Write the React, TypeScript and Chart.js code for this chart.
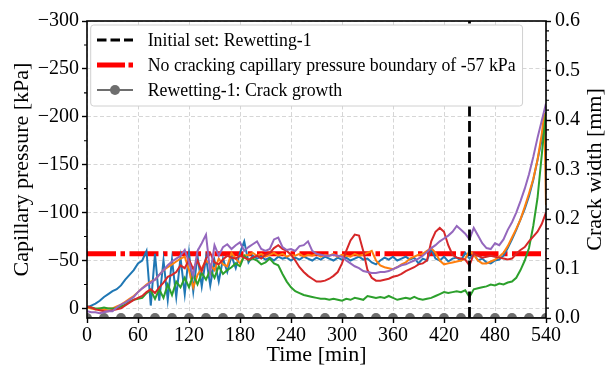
import React, { useEffect, useRef } from 'react';
import { Chart, registerables } from 'chart.js';

Chart.register(...registerables);

const SERIF = "'Liberation Serif', 'Times New Roman', Times, serif";

// ---- data ----
const times = [
  0, 5, 10, 15, 20, 25, 30, 35, 40, 45, 50, 55,
  60, 65, 70, 75, 80, 85, 90, 95, 100, 105, 110, 115,
  120, 125, 130, 135, 140, 145, 150, 155, 160, 165, 170, 175,
  180, 185, 190, 195, 200, 205, 210, 215, 220, 225, 230, 235,
  240, 245, 250, 255, 260, 265, 270, 275, 280, 285, 290, 295,
  300, 305, 310, 315, 320, 325, 330, 335, 340, 345, 350, 355,
  360, 365, 370, 375, 380, 385, 390, 395, 400, 405, 410, 415,
  420, 425, 430, 435, 440, 445, 450, 455, 460, 465, 470, 475,
  480, 485, 490, 495, 500, 505, 510, 515, 520, 525, 530, 535,
  540,
];

const blue = [
  -1, -3, -5, -8, -12, -15, -18, -20, -24, -30, -35, -40,
  -47, -50, -60, -3, -57, -8, -50, -9, -51, -12, -53, -15,
  -58, -18, -55, -23, -53, -24, -50, -28, -52, -38, -55, -42,
  -58, -70, -48, -55, -52, -54, -51, -53, -50, -54, -52, -53,
  -50, -53, -51, -54, -52, -50, -53, -51, -54, -52, -50, -53,
  -51, -53, -50, -52, -54, -51, -52, -48, -46, -50, -53, -51,
  -54, -50, -52, -54, -51, -53, -47, -52, -50, -62, -52, -50,
  -54, -49, -52, -53, -50, -58, -52, -57, -50, -52, -48, -47,
  -50, -51, -55, -63, -72, -82, -93, -104, -117, -134, -155, -176,
  -197,
];

const orange = [
  -1, 0, 1, 0, 1, 0, 0, -2, -4, -7, -10, -13,
  -17, -21, -25, -28, -30, -35, -40, -43, -46, -49, -52, -54,
  -40, -22, -35, -42, -50, -46, -40, -52, -46, -44, -58, -52,
  -47, -55, -56, -58, -55, -57, -54, -56, -58, -55, -57, -54,
  -56, -55, -57, -54, -56, -55, -57, -54, -56, -55, -57, -54,
  -56, -55, -54, -57, -55, -56, -58, -60, -50, -45, -43, -42,
  -41, -43, -46, -48, -52, -54, -56, -57, -60, -63, -58, -50,
  -46, -47, -48, -49, -50, -52, -60, -56, -50, -47, -47, -49,
  -51, -54, -58, -65, -74, -83, -93, -106, -120, -135, -155, -182,
  -108,
];
const orangePeakTime = 538;
const orangePeakValue = -204;

const green = [
  -2, -1, 0, 0, -1, 0, 0, 0, -2, -4, -7, -9,
  -10, -11, -16, -19, -10, -20, -11, -25, -14, -28, -22, -32,
  -22, -35, -25, -37, -30, -40, -32, -44, -36, -40, -43, -47,
  -44, -55, -50, -52, -50, -46, -48, -52, -47, -45, -36, -28,
  -22, -18, -16, -14, -13, -12, -11, -10, -10, -9, -10, -9,
  -8, -10, -9, -11, -10, -9, -13, -12, -11, -12, -11, -13,
  -11, -9, -10, -11, -10, -12, -10, -9, -10, -11, -13, -15,
  -17, -16, -17, -18, -17, -19, -12, -20, -21, -22, -23, -25,
  -24, -26, -25, -27, -28, -32, -40, -50, -63, -86, -115, -160,
  -205,
];

const red = [
  -2, -1, 1, 2, 3, 3, 2, 1, 0, -3, -6, -9,
  -11, -13, -17, -20, -16, -22, -27, -33, -35, -38, -45, -42,
  -51, -41, -50, -39, -52, -58, -48, -46, -51, -55, -53, -52,
  -55, -53, -51, -53, -55, -52, -56, -58, -63, -66, -62, -60,
  -56, -50, -43, -38, -34, -31, -28, -28, -29, -31, -34, -38,
  -47, -60, -71, -77, -76, -60, -40, -32, -29, -29, -30, -31,
  -33, -34, -36, -39, -41, -43, -46, -47, -50, -70, -80, -84,
  -80, -66, -56, -53, -52, -51, -45, -57, -55, -53, -54, -55,
  -54, -53, -52, -51, -52, -57, -61, -64, -70, -75, -80, -88,
  -100,
];

const purple = [
  3, 4, 4, 5, 4, 3, 3, -1, -4, -6, -9, -12,
  -17, -21, -24, -27, -30, -35, -40, -45, -49, -52, -55, -61,
  -48, -34, -60, -68, -77, -37, -66, -55, -64, -67, -62, -66,
  -69, -60, -64, -67, -70, -62, -60, -62, -72, -74, -64, -61,
  -62, -60, -65, -66, -70, -60, -57, -56, -55, -55, -56, -55,
  -54, -50, -47, -44, -42, -39, -38, -37, -37, -38, -38, -39,
  -41, -43, -45, -46, -48, -50, -52, -55, -59, -63, -66, -70,
  -73, -76, -80, -86, -82, -78, -72, -84, -76, -68, -63, -62,
  -68, -66, -72, -82, -90, -100, -112, -125, -140, -158, -178, -196,
  -214,
];

const crackTimes = [
  0, 20, 40, 60, 80, 100, 120, 140, 160, 180, 200, 220, 240, 260,
  280, 300, 320, 340, 360, 380, 400, 420, 440, 460, 480, 500, 520, 540,
];
const crackWidths = [
  0, 0, 0, 0, 0, 0, 0, 0, 0, 0, 0, 0, 0, 0,
  0, 0, 0, 0, 0, 0, 0, 0, 0, 0, 0, 0, 0, 0,
];

const initialSetTime = 450;
const boundaryPressure = -57;

const X_MIN = 0;
const X_MAX = 540;
const X_STEP = 60;
const P_MIN = -300;
const P_MAX = 10;
const P_STEP = 50;
const W_MIN = 0;
const W_MAX = 0.6;
const W_STEP = 0.1;
const pressureMinorTicks = [-275, -225, -175, -125, -75, -25];
const widthMinorTicks = [
  0.02, 0.04, 0.06, 0.08, 0.12, 0.14, 0.16, 0.18, 0.22, 0.24, 0.26, 0.28,
  0.32, 0.34, 0.36, 0.38, 0.42, 0.44, 0.46, 0.48, 0.52, 0.54, 0.56, 0.58,
];

const LABEL_INITIAL = 'Initial set: Rewetting-1';
const LABEL_BOUNDARY = 'No cracking capillary pressure boundary of -57 kPa';
const LABEL_CRACK = 'Rewetting-1: Crack growth';

const C_BLUE = '#1f77b4';
const C_ORANGE = '#ff7f0e';
const C_GREEN = '#2ca02c';
const C_RED = '#d62728';
const C_PURPLE = '#9467bd';
const C_BOUNDARY = '#ff0000';
const C_GRAY = '#6e6e6e';

const DASH_INITIAL = [11, 4.5];
const DASH_BOUNDARY = [29, 4.5, 4.5, 4.5];

const toXY = (xs: number[], ys: number[]) => xs.map((x, i) => ({ x, y: ys[i] }));

const fmtPressure = (v: number) => (v < 0 ? '\u2212' + Math.abs(v) : String(v));

const framePlugin = {
  id: 'frame',
  afterDatasetsDraw(chart: any) {
    const { ctx, chartArea: a } = chart;
    ctx.save();
    ctx.strokeStyle = '#000';
    ctx.lineWidth = 1.6;
    ctx.setLineDash([]);
    ctx.strokeRect(a.left, a.top, a.right - a.left, a.bottom - a.top);
    ctx.restore();
  },
};

const minorTickPlugin = {
  id: 'minorTicks',
  afterDraw(chart: any) {
    const { ctx, chartArea: a, scales } = chart;
    ctx.save();
    ctx.strokeStyle = '#000';
    ctx.lineWidth = 1.1;
    ctx.setLineDash([]);
    ctx.beginPath();
    for (const v of pressureMinorTicks) {
      const y = scales.y.getPixelForValue(v);
      ctx.moveTo(a.left, y);
      ctx.lineTo(a.left - 3, y);
    }
    for (const v of widthMinorTicks) {
      const y = scales.y1.getPixelForValue(v);
      ctx.moveTo(a.right, y);
      ctx.lineTo(a.right + 3, y);
    }
    ctx.stroke();
    ctx.restore();
  },
};

const rightTitlePlugin = {
  id: 'rightTitle',
  afterDraw(chart: any) {
    const { ctx, chartArea: a } = chart;
    ctx.save();
    ctx.translate(595, (a.top + a.bottom) / 2);
    ctx.rotate(-Math.PI / 2);
    ctx.font = `22px ${SERIF}`;
    ctx.fillStyle = '#000';
    ctx.textAlign = 'center';
    ctx.textBaseline = 'middle';
    ctx.fillText('Crack width [mm]', 0, 0);
    ctx.restore();
  },
};

const legendPlugin = {
  id: 'boxLegend',
  afterDraw(chart: any) {
    const { ctx, chartArea: a } = chart;
    const fontSize = 17.8;
    const boxX = a.left + 3.7;
    const boxY = a.top + 4;
    const handleX0 = boxX + 6.3;
    const handleLen = 36;
    const textX = boxX + 57;
    const rowH = 25;
    const row0 = boxY + 15;
    ctx.save();
    ctx.font = `${fontSize}px ${SERIF}`;
    const labels = [LABEL_INITIAL, LABEL_BOUNDARY, LABEL_CRACK];
    let maxW = 0;
    for (const l of labels) maxW = Math.max(maxW, ctx.measureText(l).width);
    const boxW = textX - boxX + maxW + 7;
    const boxH = 81;
    ctx.beginPath();
    if ((ctx as any).roundRect) (ctx as any).roundRect(boxX, boxY, boxW, boxH, 3);
    else ctx.rect(boxX, boxY, boxW, boxH);
    ctx.fillStyle = '#ffffff';
    ctx.fill();
    ctx.strokeStyle = '#d0d0d0';
    ctx.lineWidth = 1;
    ctx.stroke();

    // row 1: black dashed
    let y = row0;
    ctx.beginPath();
    ctx.setLineDash([9.5, 4]);
    ctx.strokeStyle = '#000';
    ctx.lineWidth = 2.8;
    ctx.moveTo(handleX0, y);
    ctx.lineTo(handleX0 + handleLen, y);
    ctx.stroke();
    // row 2: red dash-dot
    y = row0 + rowH;
    ctx.beginPath();
    ctx.setLineDash([28, 3.5, 4.5, 3.5]);
    ctx.strokeStyle = C_BOUNDARY;
    ctx.lineWidth = 5;
    ctx.moveTo(handleX0, y);
    ctx.lineTo(handleX0 + handleLen, y);
    ctx.stroke();
    // row 3: gray line with marker
    y = row0 + rowH * 2;
    ctx.beginPath();
    ctx.setLineDash([]);
    ctx.strokeStyle = C_GRAY;
    ctx.lineWidth = 2;
    ctx.moveTo(handleX0, y);
    ctx.lineTo(handleX0 + handleLen, y);
    ctx.stroke();
    ctx.beginPath();
    ctx.fillStyle = C_GRAY;
    ctx.arc(handleX0 + handleLen / 2, y, 5, 0, Math.PI * 2);
    ctx.fill();

    ctx.fillStyle = '#000';
    ctx.textAlign = 'left';
    ctx.textBaseline = 'middle';
    labels.forEach((l, i) => ctx.fillText(l, textX, row0 + rowH * i + 1));
    ctx.restore();
  },
};

export default function App() {
  const ref = useRef<HTMLCanvasElement>(null);

  useEffect(() => {
    const orangeData = toXY(times, orange);
    orangeData.splice(orangeData.length - 1, 0, { x: orangePeakTime, y: orangePeakValue });

    const lineDs = (label: string, color: string, data: any[], order: number) => ({
      label,
      data,
      borderColor: color,
      backgroundColor: color,
      borderWidth: 2,
      pointRadius: 0,
      tension: 0,
      fill: false,
      yAxisID: 'y',
      order,
    });

    const chart = new Chart(ref.current as HTMLCanvasElement, {
      type: 'line',
      data: {
        datasets: [
          {
            label: LABEL_INITIAL,
            data: [
              { x: initialSetTime, y: P_MAX },
              { x: initialSetTime, y: P_MIN },
            ],
            borderColor: '#000',
            borderWidth: 2.8,
            borderDash: DASH_INITIAL,
            pointRadius: 0,
            yAxisID: 'y',
            order: 0,
          },
          lineDs('S5', C_PURPLE, toXY(times, purple), 1),
          lineDs('S4', C_RED, toXY(times, red), 2),
          lineDs('S3', C_GREEN, toXY(times, green), 3),
          lineDs('S2', C_ORANGE, orangeData, 4),
          lineDs('S1', C_BLUE, toXY(times, blue), 5),
          {
            label: LABEL_BOUNDARY,
            data: [
              { x: X_MIN, y: boundaryPressure },
              { x: X_MAX, y: boundaryPressure },
            ],
            borderColor: C_BOUNDARY,
            borderWidth: 5,
            borderDash: DASH_BOUNDARY,
            pointRadius: 0,
            yAxisID: 'y',
            order: 6,
          },
          {
            label: LABEL_CRACK,
            data: toXY(crackTimes, crackWidths),
            borderColor: C_GRAY,
            backgroundColor: C_GRAY,
            borderWidth: 2,
            pointRadius: 5,
            pointBorderWidth: 0,
            pointStyle: 'circle',
            yAxisID: 'y1',
            order: 7,
          },
        ] as any,
      },
      options: {
        animation: false,
        responsive: false,
        maintainAspectRatio: false,
        events: [],
        layout: { padding: { top: 21, left: 0, right: 0, bottom: 0 } },
        plugins: {
          legend: { display: false },
          tooltip: { enabled: false },
          title: { display: false },
        },
        scales: {
          x: {
            type: 'linear',
            min: X_MIN,
            max: X_MAX,
            ticks: {
              stepSize: X_STEP,
              color: '#000',
              font: { family: SERIF, size: 20 },
              padding: 1,
              maxRotation: 0,
              autoSkip: false,
              includeBounds: false,
            },
            grid: {
              color: '#d6d6d6',
              lineWidth: 1,
              tickLength: 5,
              tickColor: '#000',
              tickWidth: 1.4,
            },
            border: { display: false, dash: [4, 2.5] },
            title: {
              display: true,
              text: 'Time [min]',
              color: '#000',
              font: { family: SERIF, size: 22, lineHeight: 1 },
              padding: { top: 0, bottom: 8 },
            },
            afterFit: (s: any) => {
              s.height = 56;
            },
          },
          y: {
            type: 'linear',
            position: 'left',
            min: P_MIN,
            max: P_MAX,
            reverse: true,
            ticks: {
              stepSize: P_STEP,
              color: '#000',
              font: { family: SERIF, size: 20 },
              padding: 3,
              includeBounds: false,
              callback: (v: any) => fmtPressure(Number(v)),
            },
            grid: {
              color: '#d6d6d6',
              lineWidth: 1,
              tickLength: 5,
              tickColor: '#000',
              tickWidth: 1.4,
            },
            border: { display: false, dash: [4, 2.5] },
            title: {
              display: true,
              text: 'Capillary pressure [kPa]',
              color: '#000',
              font: { family: SERIF, size: 22, lineHeight: 1 },
              padding: { top: 11, bottom: 0 },
            },
            afterFit: (s: any) => {
              s.width = 87;
            },
          },
          y1: {
            type: 'linear',
            position: 'right',
            min: W_MIN,
            max: W_MAX,
            ticks: {
              stepSize: W_STEP,
              color: '#000',
              font: { family: SERIF, size: 20 },
              padding: 4,
              callback: (v: any) => Number(v).toFixed(1),
            },
            grid: {
              drawOnChartArea: false,
              tickLength: 5,
              tickColor: '#000',
              tickWidth: 1.4,
            },
            border: { display: false },
            title: { display: false },
            afterFit: (s: any) => {
              s.width = 60;
            },
          },
        },
      } as any,
      plugins: [framePlugin, minorTickPlugin, rightTitlePlugin, legendPlugin],
    });
    return () => chart.destroy();
  }, []);

  return (
    <div style={{ position: 'fixed', left: 0, top: 0, width: 606, height: 374, background: '#fff' }}>
      <canvas ref={ref} width={606} height={374} style={{ display: 'block', width: 606, height: 374 }} />
    </div>
  );
}
